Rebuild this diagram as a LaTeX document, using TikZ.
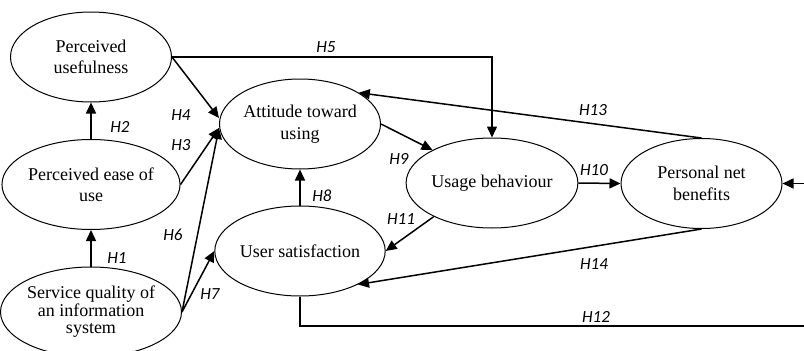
\documentclass[tikz,border=0pt]{standalone}
\usepackage{fontspec}
\setmainfont{Liberation Serif}
\newfontfamily\lblfont{Carlito}
\usetikzlibrary{arrows.meta,shapes.geometric}
\begin{document}
\begin{tikzpicture}[x=1pt,y=-1pt,
  con/.style={line width=1.5pt,-{Triangle[length=11pt,width=10pt]}},
  var/.style={ellipse,draw,line width=1pt,minimum width=161pt,minimum height=90pt,inner sep=0pt,align=center,font=\fontsize{18}{21.5}\selectfont},
  hl/.style={font=\lblfont\itshape\fontsize{17}{17}\selectfont,inner sep=0pt}]
\clip (0,0) rectangle (804,351);
\fill[white] (0,0) rectangle (804,351);
% variables
\node[var] (pu) at (91,57) {Perceived\\usefulness};
\node[var] (peu) at (91,184.5) {Perceived ease of\\use};
\node[var,font=\fontsize{18}{17.5}\selectfont] (sq) at (91,312) {Service quality of\\an information\\system};
\node[var] (att) at (300,124) {Attitude toward\\using};
\node[var] (us) at (300,251) {User satisfaction};
\node[var] (ub) at (492,183) {Usage behaviour};
\node[var] (pnb) at (701.5,183.5) {Personal net\\benefits};
% helper coordinates for the loop that leaves the picture on the right
\coordinate (rb) at (830,326);
\coordinate (rt) at (830,183.5);
% connectors
\draw[con] (pu.east) -| (ub.north);
\draw[con] (pu.east) -- ([yshift=6pt]att.west);
\draw[con] (peu.north) -- (pu.south);
\draw[con] (peu.east) -- ([yshift=-4pt]att.west);
\draw[con] (sq.north) -- (peu.south);
\draw[con] (sq.east) -- ([yshift=-4pt]att.west);
\draw[con] (sq.east) -- (us.west);
\draw[con] (us.north) -- (att.south);
\draw[con] (att.east) -- (ub.151);
\draw[con] (ub.210) -- (us.east);
\draw[con] (ub.east) -- (pnb.west);
\draw[con] (pnb.north) -- (att.28);
\draw[con] (pnb.south) -- (us.330);
\draw[con] (us.south) |- (rb) -- (rt) -- (pnb.east);
% labels
\node[hl] (h1) at (117,258) {H1};
\node[hl] (h2) at (120,127) {H2};
\node[hl] (h3) at (181,145) {H3};
\node[hl] (h4) at (181,115) {H4};
\node[hl] (h5) at (326,47) {H5};
\node[hl] (h6) at (173,235) {H6};
\node[hl] (h7) at (210,294) {H7};
\node[hl] (h8) at (322,196) {H8};
\node[hl] (h9) at (399,159) {H9};
\node[hl] (h10) at (594,170) {H10};
\node[hl] (h11) at (401,219) {H11};
\node[hl] (h12) at (596,317) {H12};
\node[hl] (h13) at (593,110) {H13};
\node[hl] (h14) at (594,264) {H14};
\end{tikzpicture}
\end{document}
